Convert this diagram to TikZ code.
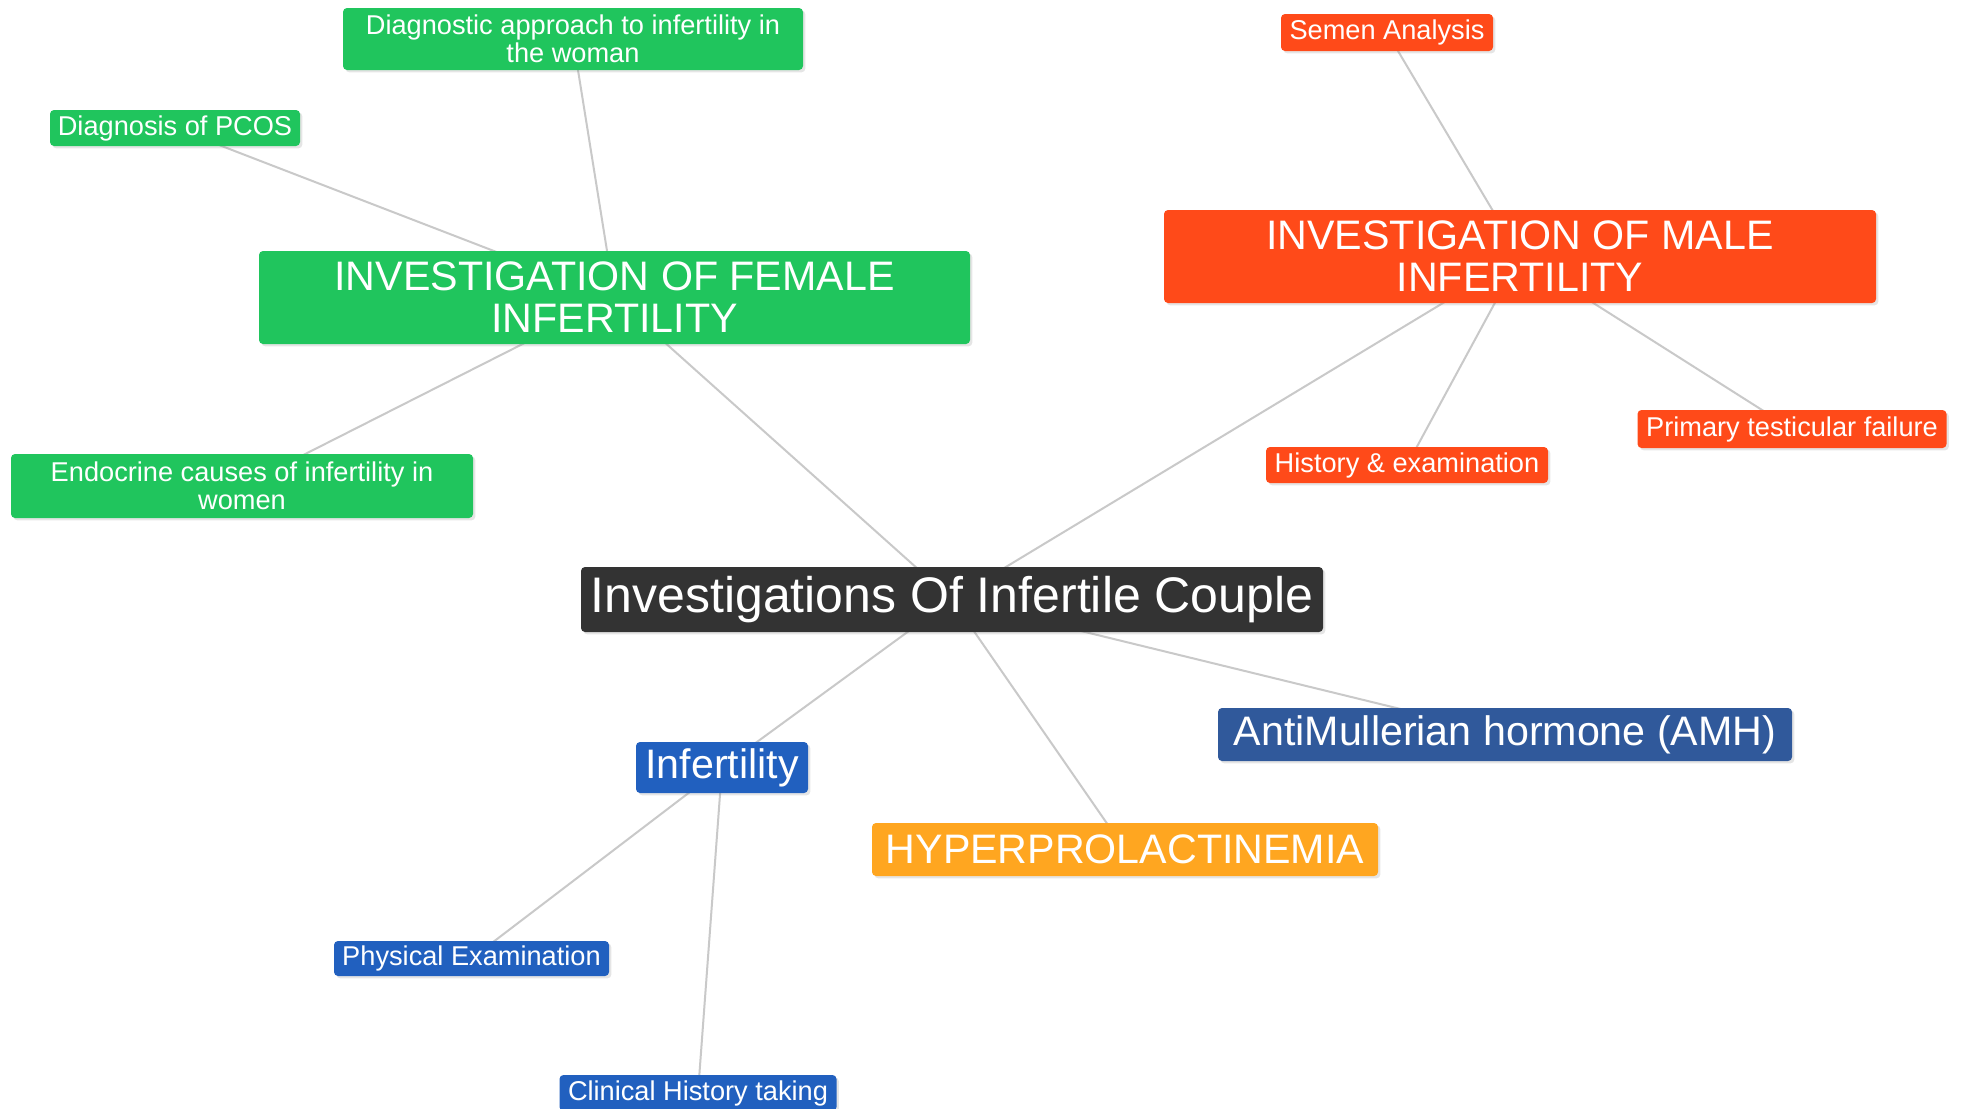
\documentclass[tikz,border=0pt]{standalone}
\usepackage{fontspec}
\setmainfont{Liberation Sans}
\usetikzlibrary{backgrounds,shadows}
\definecolor{MapBg}{HTML}{FFFFFF}
\definecolor{MapRoot}{HTML}{333333}
\definecolor{MapGreen}{HTML}{20C55D}
\definecolor{MapRed}{HTML}{FF4A19}
\definecolor{MapBlue}{HTML}{2160BF}
\definecolor{MapNavy}{HTML}{30599B}
\definecolor{MapAmber}{HTML}{FFA620}
\definecolor{MapLine}{HTML}{C9C9C9}
\tikzset{
  map box/.style={
    text=white,
    rounded corners=2pt,
    align=center,
    inner sep=0pt,
    drop shadow={shadow xshift=1.2pt,shadow yshift=-1.2pt,opacity=0.2}
  },
  map root/.style={map box,fill=MapRoot,font=\fontsize{25}{27}\selectfont},
  map branch/.style={map box,font=\fontsize{20.6}{21}\selectfont},
  map leaf/.style={map box,font=\fontsize{13.6}{13.8}\selectfont},
  map link/.style={draw=MapLine,line width=1pt}
}

\begin{document}
\begin{tikzpicture}[x=0.5pt,y=-0.5pt]
  \useasboundingbox (0,0) rectangle (1962,1108);

  % centre
  \node[map root,minimum width=371pt,minimum height=32.5pt] (root) at (952,599.5) {Investigations Of Infertile Couple};

  % female side
  \node[map branch,fill=MapGreen,minimum width=355.5pt,minimum height=46.5pt] (female) at (614.5,297.5) {INVESTIGATION OF FEMALE\\INFERTILITY};
  \node[map leaf,fill=MapGreen,minimum width=230pt,minimum height=31pt] (diag) at (573,39) {Diagnostic approach to infertility in\\the woman};
  \node[map leaf,fill=MapGreen,minimum width=125pt,minimum height=18pt] (pcos) at (175,128) {Diagnosis of PCOS};
  \node[map leaf,fill=MapGreen,minimum width=231pt,minimum height=32pt] (endo) at (242,486) {Endocrine causes of infertility in\\women};

  % male side
  \node[map branch,fill=MapRed,minimum width=356pt,minimum height=46.5pt] (male) at (1520,256.5) {INVESTIGATION OF MALE\\INFERTILITY};
  \node[map leaf,fill=MapRed,minimum width=106pt,minimum height=18.5pt] (semen) at (1387,32.5) {Semen Analysis};
  \node[map leaf,fill=MapRed,minimum width=141pt,minimum height=18pt] (history) at (1407,465) {History \& examination};
  \node[map leaf,fill=MapRed,minimum width=154.5pt,minimum height=19pt] (primary) at (1792,429) {Primary testicular failure};

  % lower branches
  \node[map branch,fill=MapNavy,minimum width=287pt,minimum height=26.5pt] (amh) at (1505,734.5) {AntiMullerian hormone (AMH)};
  \node[map branch,fill=MapAmber,minimum width=253pt,minimum height=26.5pt] (hyper) at (1125,849.5) {HYPERPROLACTINEMIA};
  \node[map branch,fill=MapBlue,minimum width=86pt,minimum height=25.5pt] (infert) at (722,767.5) {Infertility};
  \node[map leaf,fill=MapBlue,minimum width=137.5pt,minimum height=17.5pt] (physical) at (471.5,958.5) {Physical Examination};
  \node[map leaf,fill=MapBlue,minimum width=138.5pt,minimum height=18pt] (clinical) at (698,1093) {Clinical History taking};

  \begin{scope}[on background layer]
    \fill[MapBg] (0,0) rectangle (1962,1108);
    \draw[map link] (root.center) -- (female.center);
    \draw[map link] (female.center) -- (diag.center);
    \draw[map link] (female.center) -- (pcos.center);
    \draw[map link] (female.center) -- (endo.center);
    \draw[map link] (root.center) -- (male.center);
    \draw[map link] (male.center) -- (semen.center);
    \draw[map link] (male.center) -- (history.center);
    \draw[map link] (male.center) -- (primary.center);
    \draw[map link] (root.center) -- (amh.center);
    \draw[map link] (root.center) -- (hyper.center);
    \draw[map link] (root.center) -- (infert.center);
    \draw[map link] (infert.center) -- (physical.center);
    \draw[map link] (infert.center) -- (clinical.center);
  \end{scope}
\end{tikzpicture}
\end{document}
